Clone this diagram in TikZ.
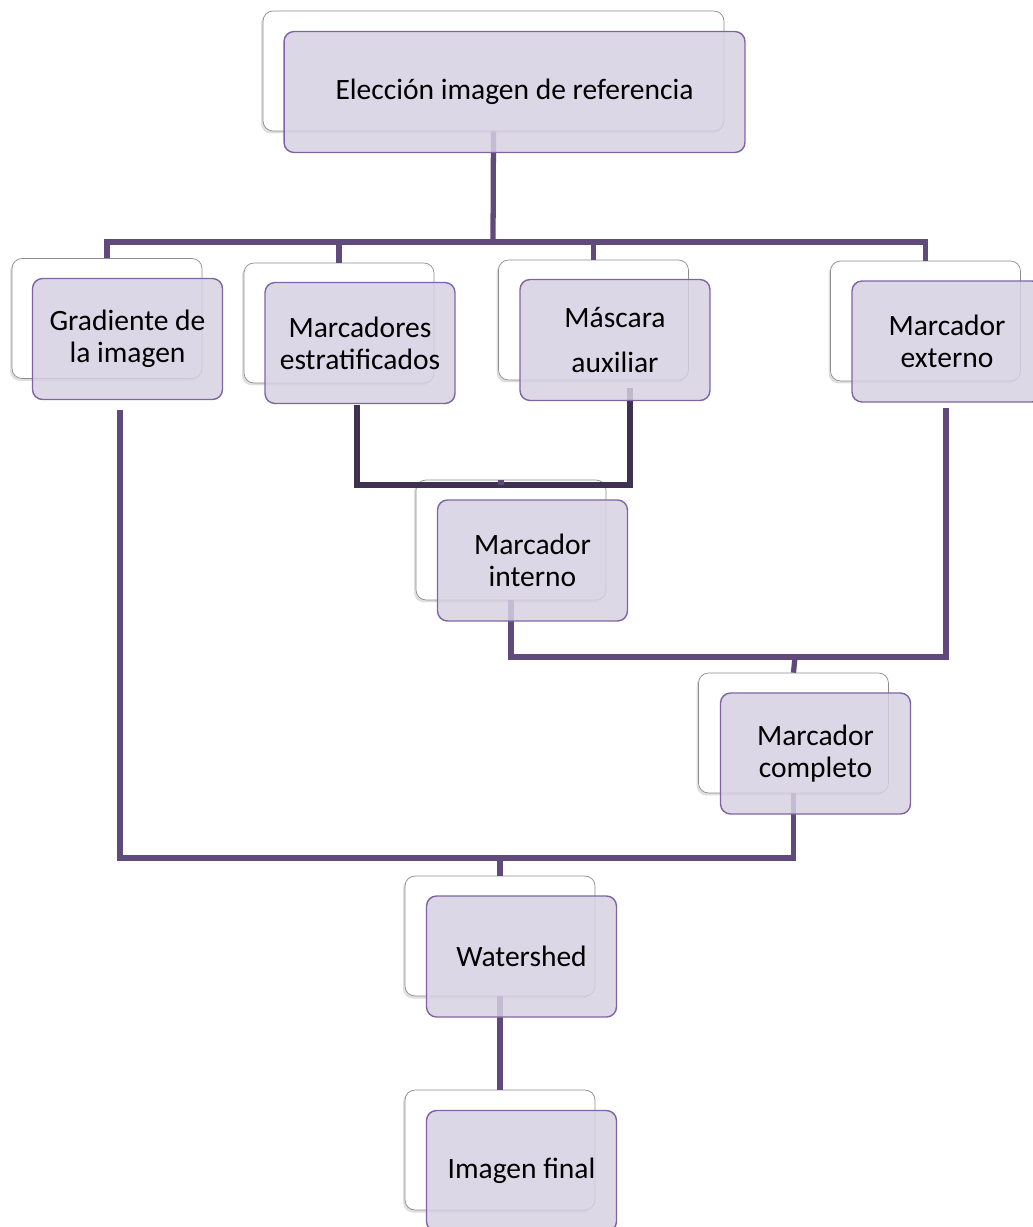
\documentclass[tikz,border=0pt]{standalone}
\usepackage{fontspec}
\setmainfont{Carlito}
\usetikzlibrary{shadows}
\definecolor{boxline}{RGB}{128,100,162}
\definecolor{boxfill}{RGB}{214,209,226}
\definecolor{linkcol}{RGB}{96,74,123}
\definecolor{darklink}{RGB}{63,49,81}
\definecolor{backline}{RGB}{140,140,140}
\begin{document}
\begin{tikzpicture}[
                x=0.02cm, y=-0.02cm,
                font=\fontsize{16.8}{18.2}\selectfont,
                backbox/.style={rectangle, rounded corners=0.2cm, draw=backline, fill=white,
                    minimum width=3.8cm, minimum height=2.4cm,
                    drop shadow={shadow xshift=-0.04cm, shadow yshift=-0.05cm, opacity=0.25}},
                frontbox/.style={rectangle, rounded corners=0.2cm, draw=boxline, thick,
                    fill=boxfill, fill opacity=0.85, text opacity=1, align=center,
                    minimum width=3.8cm, minimum height=2.42cm},
                wide/.style={minimum width=9.22cm},
                link/.style={draw=linkcol, line width=3pt},
                darkwire/.style={draw=darklink, line width=3pt}
            ]
                \useasboundingbox (0,0) rectangle (1033,1227);

                % back boxes
                \node[backbox, wide] (ref-b) at (493.5, 71) {};
                \node[backbox] (grad-b) at (107, 318.5) {};
                \node[backbox] (estr-b) at (339, 323) {};
                \node[backbox] (masc-b) at (593.5, 320) {};
                \node[backbox] (ext-b) at (925.5, 321) {};
                \node[backbox] (int-b) at (511, 540) {};
                \node[backbox] (comp-b) at (793.5, 733) {};
                \node[backbox] (water-b) at (500, 936) {};
                \node[backbox] (final-b) at (500, 1150) {};

                % junctions
                \coordinate (bus) at (493, 242);
                \coordinate (join1) at (501, 485);
                \coordinate (join2) at (795, 657);
                \coordinate (join3) at (500, 858);

                \draw[link] (ref-b.south) -- (bus);
                \draw[link] (bus) -| (grad-b.north);
                \draw[link] (bus) -| (estr-b.north);
                \draw[link] (bus) -| (masc-b.north);
                \draw[link] (bus) -| (ext-b.north);

                \draw[darkwire] (357, 405) |- (join1) -| (630, 388);
                \draw[link] (join1) -- (join1 |- int-b.north);

                \draw[link] (int-b.south) |- (join2) -| (946, 408);
                \draw[link] (join2) -- (comp-b.north);

                \draw[link] (120, 410) |- (join3) -| (comp-b.south);
                \draw[link] (join3) -- (water-b.north);

                \draw[link] (water-b.south) -- (final-b.north);

                % front boxes
                \node[frontbox, wide] (ref) at (514.5, 92) {Elección imagen de referencia};
                \node[frontbox] (grad) at (127.5, 339) {Gradiente de\\la imagen};
                \node[frontbox] (estr) at (360, 343) {Marcadores\\estratificados};
                \node[frontbox] (masc) at (615, 340) {Máscara\\[0.26cm]auxiliar};
                \node[frontbox] (ext) at (947, 341.5) {Marcador\\externo};
                \node[frontbox] (int) at (532.5, 560.5) {Marcador\\interno};
                \node[frontbox] (comp) at (815.5, 753.5) {Marcador\\completo};
                \node[frontbox] (water) at (521.5, 956.5) {Watershed};
                \node[frontbox] (final) at (521.5, 1171) {Imagen final};
            \end{tikzpicture}
\end{document}
